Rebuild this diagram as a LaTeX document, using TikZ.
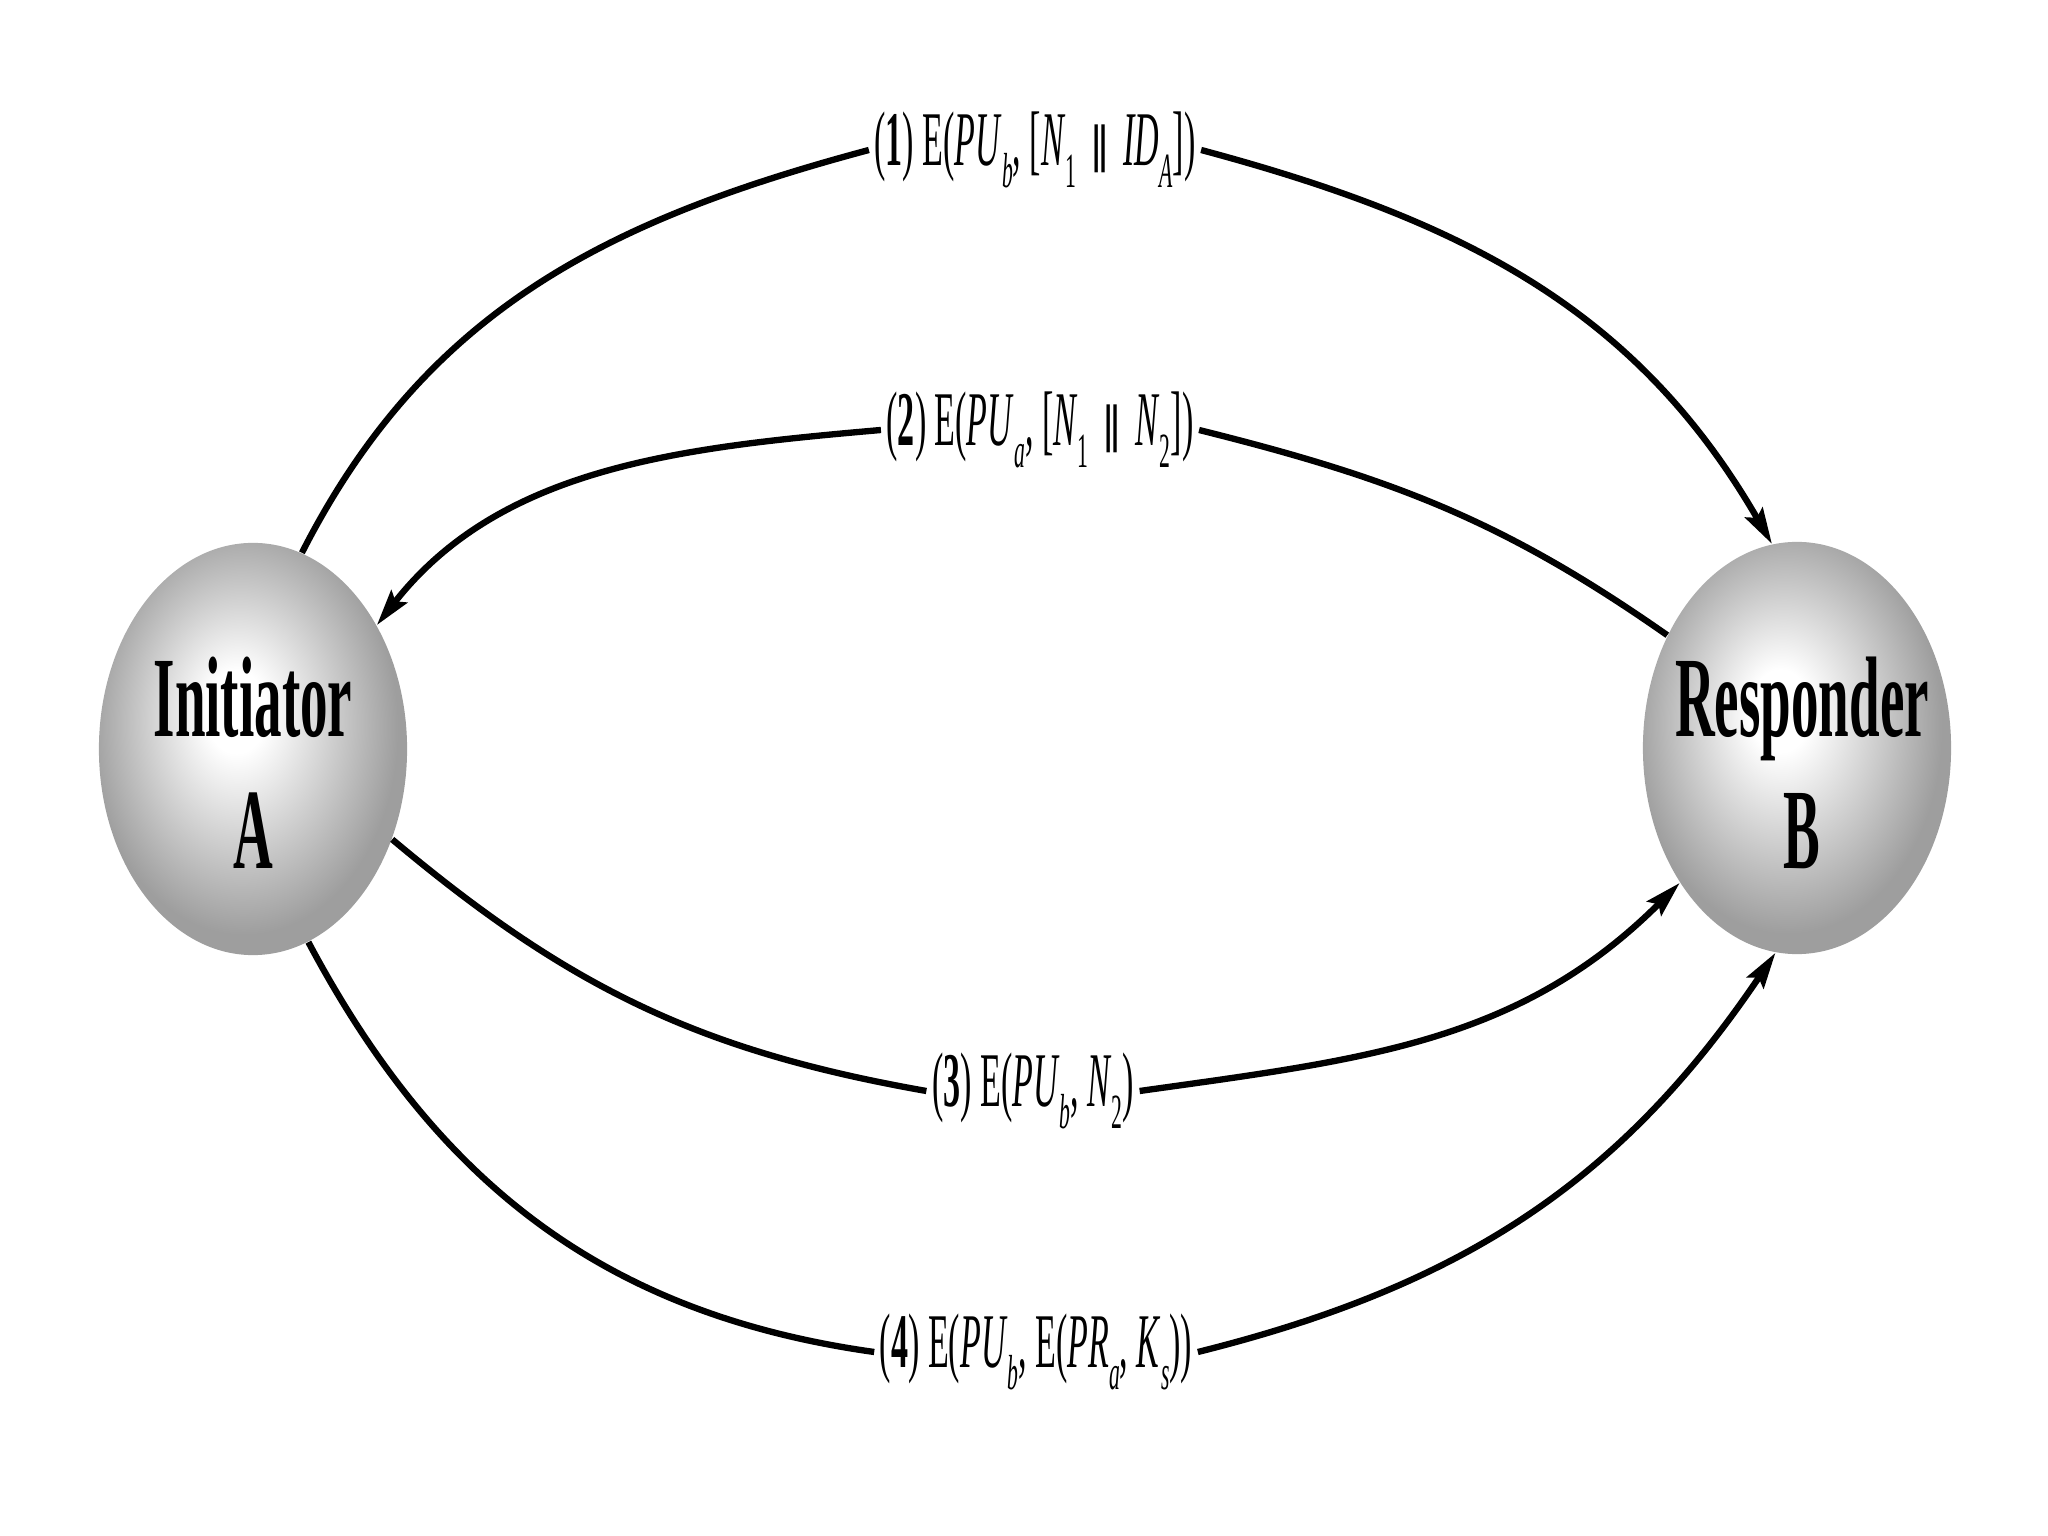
\documentclass[tikz,border=0pt]{standalone}
\usepackage{fontspec}
\setmainfont{Liberation Serif}[FakeStretch=0.48]
\newfontfamily\msgfont{Liberation Serif}[FakeStretch=0.44]
\newfontfamily\dvs{DejaVu Serif}
\usetikzlibrary{shapes.geometric,arrows.meta}
\pgfdeclareradialshading{ballgray}{\pgfpoint{-3bp}{5bp}}{color(0bp)=(white); color(5bp)=(white); color(25bp)=(black!38); color(50bp)=(black!38)}
\newcommand{\sbx}[1]{\raisebox{-0.28em}{\fontsize{14}{14}\selectfont #1}}
\newcommand{\cat}{\,\raisebox{0.05em}{\scalebox{0.55}[0.62]{\dvs ‖}}\,}
\tikzset{
  ball/.style={ellipse, minimum width=3.08cm, minimum height=4.12cm, inner sep=0pt, shading=ballgray},
  ballname/.style={align=center, font=\fontsize{32.6}{37.6}\selectfont\bfseries, inner sep=0pt},
  msg/.style={font=\fontsize{22}{26}\selectfont\msgfont, inner xsep=0.05cm, inner ysep=0pt},
  conn/.style={line width=1.8pt, black},
  tip/.style={-{Stealth[length=0.36cm,width=0.2cm,inset=0.06cm]}}
}
\begin{document}
\begin{tikzpicture}[x=0.01cm,y=0.01cm]
\useasboundingbox (0,0) rectangle (2048,1536);
\node[ball] (A) at (253,787) {};
\node[ball] (B) at (1797,788) {};
\node[ballname] (At) at (253,773) {Initiator\\A};
\node[ballname] (Bt) at (1802,773) {Responder\\B};
\node[msg] (l1) at (1035,1386) {(\textbf{1}) E(\textit{PU}\sbx{\textit{b}}, [\textit{N}\sbx{1}\cat\textit{ID}\sbx{\textit{A}}])};
\node[msg] (l2) at (1040,1106) {(\textbf{2}) E(\textit{PU}\sbx{\textit{a}}, [\textit{N}\sbx{1}\cat\textit{N}\sbx{2}])};
\node[msg] (l3) at (1033,445) {(\textbf{3}) E(\textit{PU}\sbx{\textit{b}}, \textit{N}\sbx{2})};
\node[msg] (l4) at (1036,184) {(\textbf{4}) E(\textit{PU}\sbx{\textit{b}}, E(\textit{PR}\sbx{\textit{a}}, \textit{K}\sbx{\textit{s}}))};
\draw[conn] (A.76) to[out=63,in=195] (l1.west);
\draw[conn,tip] (l1.east) to[out=-15,in=120] (B.97);
\draw[conn] (B.139) to[out=145,in=-14] (l2.east);
\draw[conn,tip] (l2.west) to[out=185,in=52,looseness=0.95] (A.45);
\draw[conn] (A.-33) to[out=-40,in=170] (l3.west);
\draw[conn,tip] (l3.east) to[out=8,in=225] (B.229);
\draw[conn] (A.-74) to[out=-62,in=172] (l4.west);
\draw[conn,tip] (l4.east) to[out=14,in=236] (B.264);
\end{tikzpicture}
\end{document}
